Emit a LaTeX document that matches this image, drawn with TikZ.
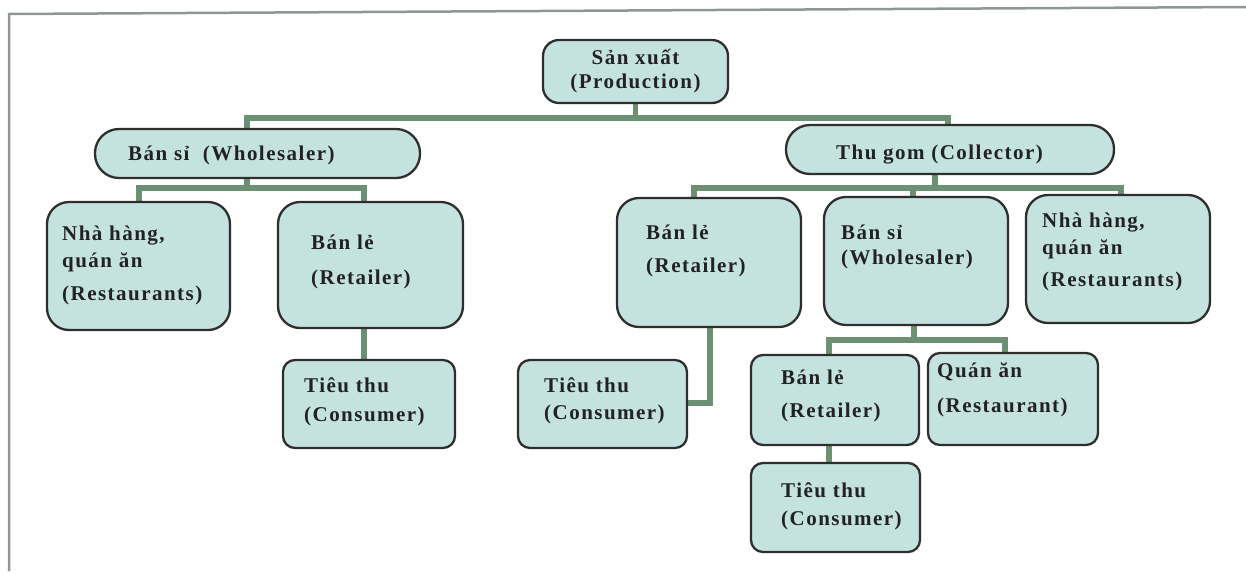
\documentclass[tikz,border=0pt]{standalone}
\usepackage{fontspec}
\setmainfont{Liberation Serif}
\newfontfamily\vfont[LetterSpace=7]{Liberation Serif}
\definecolor{boxfill}{HTML}{C4E2DE}
\definecolor{boxline}{HTML}{2E2E2E}
\definecolor{conncol}{HTML}{6C9172}
\definecolor{framecol}{HTML}{8C9890}
\definecolor{txtcol}{HTML}{222222}
\pgfdeclarelayer{bg}
\pgfsetlayers{bg,main}
\newcommand\mybox[6]{\node[box, rounded corners=#6pt, minimum width={(#4-#2)*1pt}, minimum height={(#5-#3)*1pt}] (#1) at ({(#2+#4)/2},{(#3+#5)/2}) {};}
\newcommand\mytxt[6]{\node[lbl, anchor=#4, font=\vfont\bfseries\fontsize{21}{#5}\selectfont] (#1) at (#2,#3) {#6};}
\begin{document}
\begin{tikzpicture}[x=1pt,y=-1pt,
  box/.style={draw=boxline, fill=boxfill, line width=2.3pt, inner sep=0pt},
  conn/.style={draw=conncol, line width=5.2pt},
  lbl/.style={align=left, inner sep=0pt, text=txtcol},
  framel/.style={draw=framecol, line width=2.5pt}]
\useasboundingbox (0,0) rectangle (1246,571);
% frame
\coordinate (fTL) at (9,14);
\coordinate (fTR) at (1246,7);
\coordinate (fBL) at (9,571);
\draw[framel] (fBL) -- (fTL) -- (fTR);
% boxes
\mybox{prod}{543}{40}{728}{103}{16}
\mybox{whole1}{95}{129}{420}{178}{24}
\mybox{nh1}{47}{202}{230}{330}{22}
\mybox{ret1}{278}{202}{463}{328}{22}
\mybox{con1}{283}{360}{455}{448}{12}
\mybox{coll}{786}{125}{1114}{174}{24}
\mybox{ret2}{617}{198}{801}{327}{22}
\mybox{whole2}{824}{197}{1008}{325}{22}
\mybox{nh2}{1026}{195}{1210}{323}{22}
\mybox{con2}{518}{360}{687}{448}{12}
\mybox{ret3}{751}{355}{919}{445}{12}
\mybox{qa}{928}{353}{1098}{445}{12}
\mybox{con3}{751}{463}{920}{552}{12}
% texts
\node[lbl, align=center, font=\vfont\bfseries\fontsize{21}{24}\selectfont] (tprod) at (prod.center) {Sản xuất\\(Production)};
\mytxt{twhole1}{128}{155}{west}{24}{Bán sỉ\ \ (Wholesaler)}
\mytxt{tnh1}{62}{265}{west}{27}{Nhà hàng,\\quán ăn\\[6pt](Restaurants)}
\mytxt{tret1}{311}{262}{west}{35}{Bán lẻ\\(Retailer)}
\mytxt{tcon1}{304}{402}{west}{29}{Tiêu thu\\(Consumer)}
\mytxt{tcoll}{836}{155}{west}{24}{Thu gom (Collector)}
\mytxt{tret2}{646}{251}{west}{33}{Bán lẻ\\(Retailer)}
\mytxt{twhole2}{841}{247}{west}{25}{Bán sỉ\\(Wholesaler)}
\mytxt{tnh2}{1042}{252}{west}{27}{Nhà hàng,\\quán ăn\\[5pt](Restaurants)}
\mytxt{tcon2}{544}{401}{west}{27}{Tiêu thu\\(Consumer)}
\mytxt{tret3}{781}{396}{west}{33}{Bán lẻ\\(Retailer)}
\mytxt{tqa}{937}{390}{west}{35}{Quán ăn\\(Restaurant)}
\mytxt{tcon3}{781}{506}{west}{28}{Tiêu thu\\(Consumer)}
% junction coordinates
\coordinate (busL) at (247,118);
\coordinate (busR) at (948,118);
\coordinate (wb) at (247,188);
\coordinate (wbL) at (139,188);
\coordinate (wbR) at (364,188);
\coordinate (cb) at (935,188);
\coordinate (cbL) at (694,188);
\coordinate (cbM) at (913,188);
\coordinate (cbR) at (1121,188);
\coordinate (mb) at (914,340);
\coordinate (mbL) at (829,340);
\coordinate (mbR) at (1005,340);
\coordinate (rb) at (710,403);
\begin{pgfonlayer}{bg}
\draw[conn] (prod.south) -- (prod.south |- busL);
\draw[conn] (whole1.north -| busL) -- (busL) -- (busR) -- (busR |- coll.north);
\draw[conn] (whole1.south -| wb) -- (wb);
\draw[conn] (nh1.north -| wbL) -- (wbL) -- (wbR) -- (wbR |- ret1.north);
\draw[conn] (ret1.south -| wbR) -- (wbR |- con1.north);
\draw[conn] (coll.south -| cb) -- (cb);
\draw[conn] (ret2.north -| cbL) -- (cbL) -- (cbR) -- (cbR |- nh2.north);
\draw[conn] (cbM) -- (cbM |- whole2.north);
\draw[conn] (ret2.south -| rb) -- (rb) -- (rb -| con2.east);
\draw[conn] (whole2.south -| mb) -- (mb);
\draw[conn] (ret3.north -| mbL) -- (mbL) -- (mbR) -- (mbR |- qa.north);
\draw[conn] (ret3.south -| mbL) -- (mbL |- con3.north);
\end{pgfonlayer}
\end{tikzpicture}
\end{document}
